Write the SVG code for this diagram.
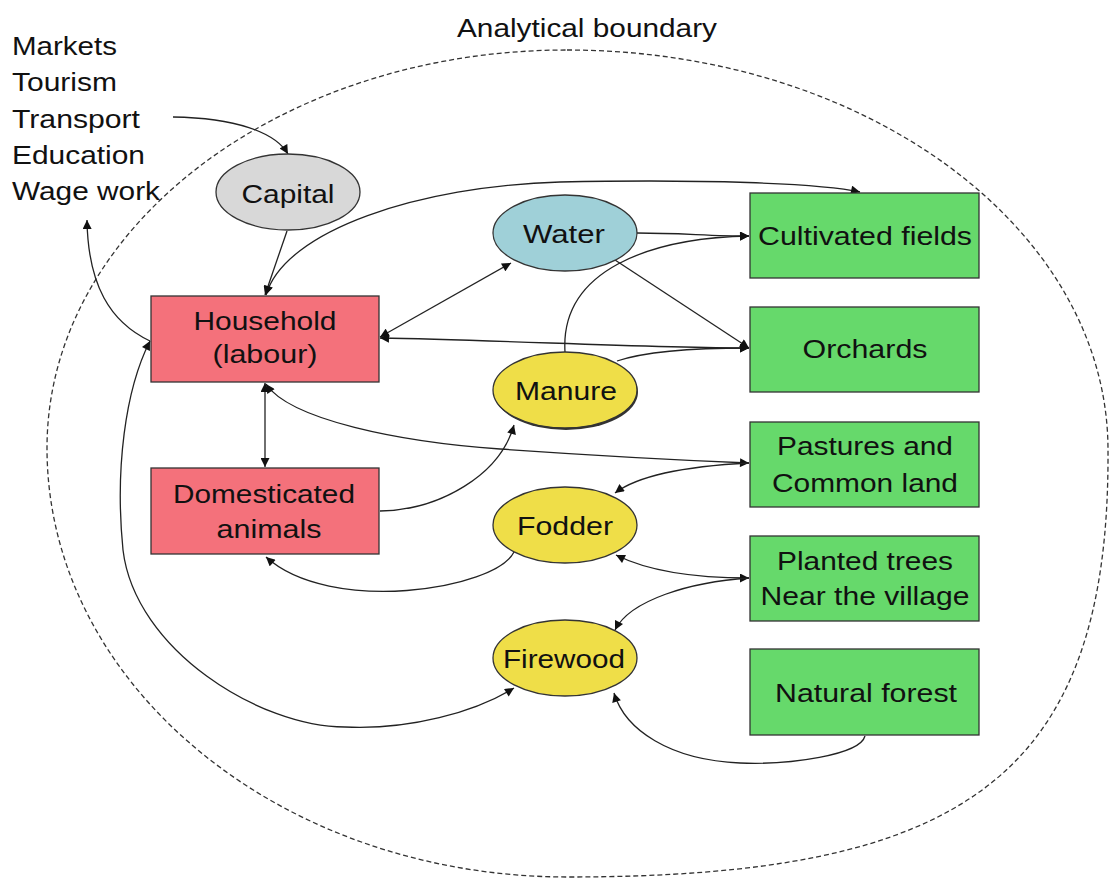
<svg xmlns="http://www.w3.org/2000/svg" width="1109" height="879" viewBox="0 0 1109 879">
<style>
text{font-family:"Liberation Sans",Arial,sans-serif;font-size:25px;fill:#111}
.c{text-anchor:middle}
.box{stroke:#333;stroke-width:1.3}
.red{fill:#f4717b}
.green{fill:#66d96b}
.yellow{fill:#efde48;stroke:#333;stroke-width:1.3}
.blue{fill:#9fd0d8;stroke:#333;stroke-width:1.3}
.gray{fill:#d8d8d8;stroke:#333;stroke-width:1.3}
.ln{fill:none;stroke:#222;stroke-width:1.3}
.bnd{fill:none;stroke:#333;stroke-width:1.3;stroke-dasharray:5 3}
</style>
<defs>
<marker id="ah" viewBox="0 0 10 10" refX="10" refY="5" markerWidth="10" markerHeight="9" markerUnits="userSpaceOnUse" orient="auto-start-reverse">
<path d="M0,0 L10,5 L0,10 z" fill="#111"/>
</marker>
</defs>
<rect width="1109" height="879" fill="#fff"/>

<g id="boundary">
<path class="bnd" d="M567,50 C866,50 1108,229 1108,450 C1110,780 960,877 568,877 C280,877 47,685 47,448 C47,228 280,50 567,50 Z"/>
<text class="c" x="587" y="37" textLength="260" lengthAdjust="spacingAndGlyphs">Analytical boundary</text>
</g>

<g id="external">
<text x="12" y="55" textLength="105" lengthAdjust="spacingAndGlyphs">Markets</text>
<text x="12" y="91" textLength="105" lengthAdjust="spacingAndGlyphs">Tourism</text>
<text x="12" y="128" textLength="128" lengthAdjust="spacingAndGlyphs">Transport</text>
<text x="12" y="164" textLength="133" lengthAdjust="spacingAndGlyphs">Education</text>
<text x="12" y="200" textLength="148" lengthAdjust="spacingAndGlyphs">Wage work</text>
</g>

<g id="connectors">
<path class="ln" marker-end="url(#ah)" d="M173,117 C235,118 275,132 288,154"/>
<path class="ln" marker-end="url(#ah)" d="M287,231 L265,295"/>
<path class="ln" marker-start="url(#ah)" marker-end="url(#ah)" d="M266,295 C285,230 420,186 560,182 C700,179 820,183 860,192"/>
<path class="ln" marker-start="url(#ah)" marker-end="url(#ah)" d="M380,337 L511,263"/>
<path class="ln" marker-end="url(#ah)" d="M637,233 C680,233 710,236 749,236"/>
<path class="ln" marker-end="url(#ah)" d="M615,260 L749,348"/>
<path class="ln" marker-end="url(#ah)" d="M565,352 C560,270 650,238 749,236"/>
<path class="ln" marker-end="url(#ah)" d="M617,361 C650,350 700,348 749,348"/>
<path class="ln" marker-start="url(#ah)" marker-end="url(#ah)" d="M380,338 C500,340 650,348 749,348"/>
<path class="ln" marker-start="url(#ah)" marker-end="url(#ah)" d="M265,383 L265,467"/>
<path class="ln" marker-start="url(#ah)" marker-end="url(#ah)" d="M266,384 C290,420 400,442 500,449 C600,456 700,461 749,463"/>
<path class="ln" marker-end="url(#ah)" d="M380,511 C440,510 500,475 514,425"/>
<path class="ln" marker-end="url(#ah)" d="M749,463 C690,466 640,474 615,493"/>
<path class="ln" marker-end="url(#ah)" d="M514,552 C495,590 330,615 266,557"/>
<path class="ln" marker-start="url(#ah)" marker-end="url(#ah)" d="M749,578 C700,578 650,572 616,555"/>
<path class="ln" marker-end="url(#ah)" d="M749,578 C690,582 630,600 615,630"/>
<path class="ln" marker-end="url(#ah)" d="M865,736 C860,755 790,765 740,763 C670,760 625,730 614,693"/>
<path class="ln" marker-start="url(#ah)" marker-end="url(#ah)" d="M514,688 C475,712 410,730 345,727 C260,727 135,650 123,550 C115,470 125,390 150,341"/>
<path class="ln" marker-end="url(#ah)" d="M150,341 C110,322 88,285 87,220"/>
</g>

<g id="capital">
<ellipse class="gray" cx="288" cy="192" rx="72" ry="38"/>
<text class="c" x="288" y="203" textLength="93" lengthAdjust="spacingAndGlyphs">Capital</text>
</g>
<g id="household">
<rect class="box red" x="151" y="296" width="228" height="86"/>
<text class="c" x="265" y="330" textLength="143" lengthAdjust="spacingAndGlyphs">Household</text>
<text class="c" x="265" y="363" textLength="105" lengthAdjust="spacingAndGlyphs">(labour)</text>
</g>
<g id="domesticated">
<rect class="box red" x="151" y="468" width="228" height="86"/>
<text class="c" x="264" y="503" textLength="182" lengthAdjust="spacingAndGlyphs">Domesticated</text>
<text class="c" x="269" y="538" textLength="105" lengthAdjust="spacingAndGlyphs">animals</text>
</g>
<g id="water">
<ellipse class="blue" cx="565" cy="233" rx="72" ry="38"/>
<text class="c" x="564" y="243" textLength="82" lengthAdjust="spacingAndGlyphs">Water</text>
</g>
<g id="manure">
<ellipse cx="566" cy="392" rx="72" ry="38" fill="#333"/>
<ellipse class="yellow" cx="565" cy="390" rx="72" ry="38"/>
<text class="c" x="566" y="400" textLength="102" lengthAdjust="spacingAndGlyphs">Manure</text>
</g>
<g id="fodder">
<ellipse class="yellow" cx="565" cy="525" rx="72" ry="38"/>
<text class="c" x="565" y="535" textLength="96" lengthAdjust="spacingAndGlyphs">Fodder</text>
</g>
<g id="firewood">
<ellipse class="yellow" cx="565" cy="658" rx="72" ry="38"/>
<text class="c" x="564" y="668" textLength="122" lengthAdjust="spacingAndGlyphs">Firewood</text>
</g>
<g id="cultivated">
<rect class="box green" x="750" y="193" width="229" height="85"/>
<text class="c" x="865" y="245" textLength="214" lengthAdjust="spacingAndGlyphs">Cultivated fields</text>
</g>
<g id="orchards">
<rect class="box green" x="750" y="307" width="229" height="85"/>
<text class="c" x="865" y="358" textLength="125" lengthAdjust="spacingAndGlyphs">Orchards</text>
</g>
<g id="pastures">
<rect class="box green" x="750" y="422" width="229" height="85"/>
<text class="c" x="865" y="455" textLength="176" lengthAdjust="spacingAndGlyphs">Pastures and</text>
<text class="c" x="865" y="492" textLength="186" lengthAdjust="spacingAndGlyphs">Common land</text>
</g>
<g id="planted">
<rect class="box green" x="750" y="536" width="229" height="85"/>
<text class="c" x="865" y="570" textLength="176" lengthAdjust="spacingAndGlyphs">Planted trees</text>
<text class="c" x="865" y="605" textLength="209" lengthAdjust="spacingAndGlyphs">Near the village</text>
</g>
<g id="forest">
<rect class="box green" x="750" y="649" width="229" height="86"/>
<text class="c" x="866" y="702" textLength="182" lengthAdjust="spacingAndGlyphs">Natural forest</text>
</g>
</svg>
